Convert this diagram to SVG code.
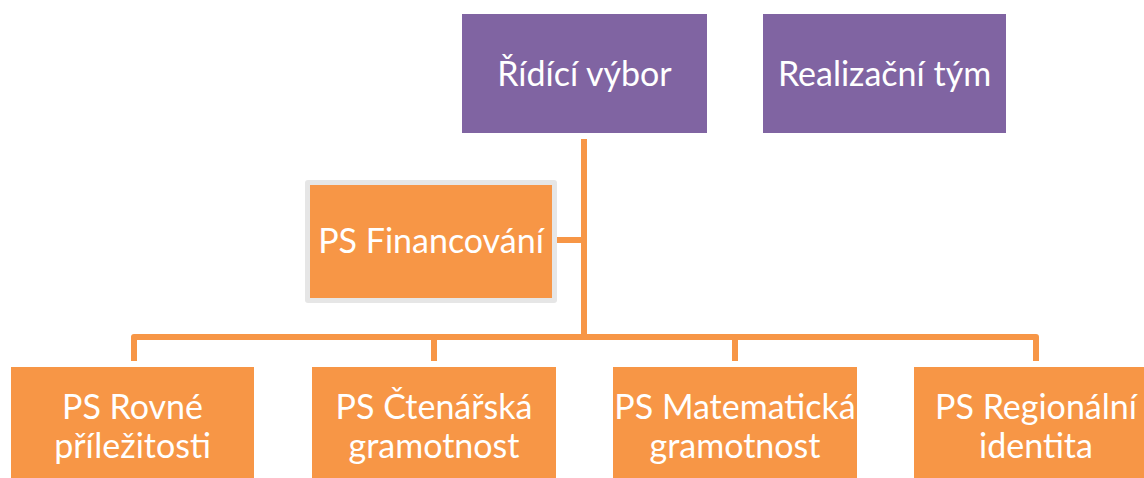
<svg xmlns="http://www.w3.org/2000/svg" width="1144" height="478" viewBox="0 0 1144 478">
<style>
.p{fill:#8064A2}
.o{fill:#F79646}
.t{fill:#fff;font-family:Lato,"Open Sans",sans-serif;font-size:34px;text-anchor:middle}
.c{fill:none;stroke:#F79646;stroke-width:6;stroke-linejoin:round}
</style>
<rect width="1144" height="478" fill="#fff"/>
<g id="connectors">
<path class="c" d="M584,139 V334 M557,240 H584 M134,361 V337 H1036 V361 M434,334 V361 M735,334 V361"/>
</g>
<g id="ridici"><rect class="p" x="462" y="14" width="245" height="119"/><text class="t" x="584.5" y="86">Řídící výbor</text></g>
<g id="realizacni"><rect class="p" x="763" y="14" width="243" height="119"/><text class="t" x="884.5" y="86">Realizační tým</text></g>
<g id="financovani"><rect x="305" y="180" width="252" height="123" rx="3" fill="#E6E6E6"/><rect class="o" x="310" y="185" width="242" height="113"/><text class="t" x="431" y="253">PS Financování</text></g>
<g id="rovne"><rect class="o" x="11" y="367" width="243" height="120"/><text class="t" x="132.5" y="419">PS Rovné</text><text class="t" x="132.5" y="458">příležitosti</text></g>
<g id="ctenarska"><rect class="o" x="312" y="367" width="244" height="120"/><text class="t" x="434" y="419">PS Čtenářská</text><text class="t" x="434" y="458">gramotnost</text></g>
<g id="matematicka"><rect class="o" x="613" y="367" width="244" height="120"/><text class="t" x="735" y="419">PS Matematická</text><text class="t" x="735" y="458">gramotnost</text></g>
<g id="regionalni"><rect class="o" x="914" y="367" width="244" height="120"/><text class="t" x="1036" y="419">PS Regionální</text><text class="t" x="1036" y="458">identita</text></g>
</svg>
